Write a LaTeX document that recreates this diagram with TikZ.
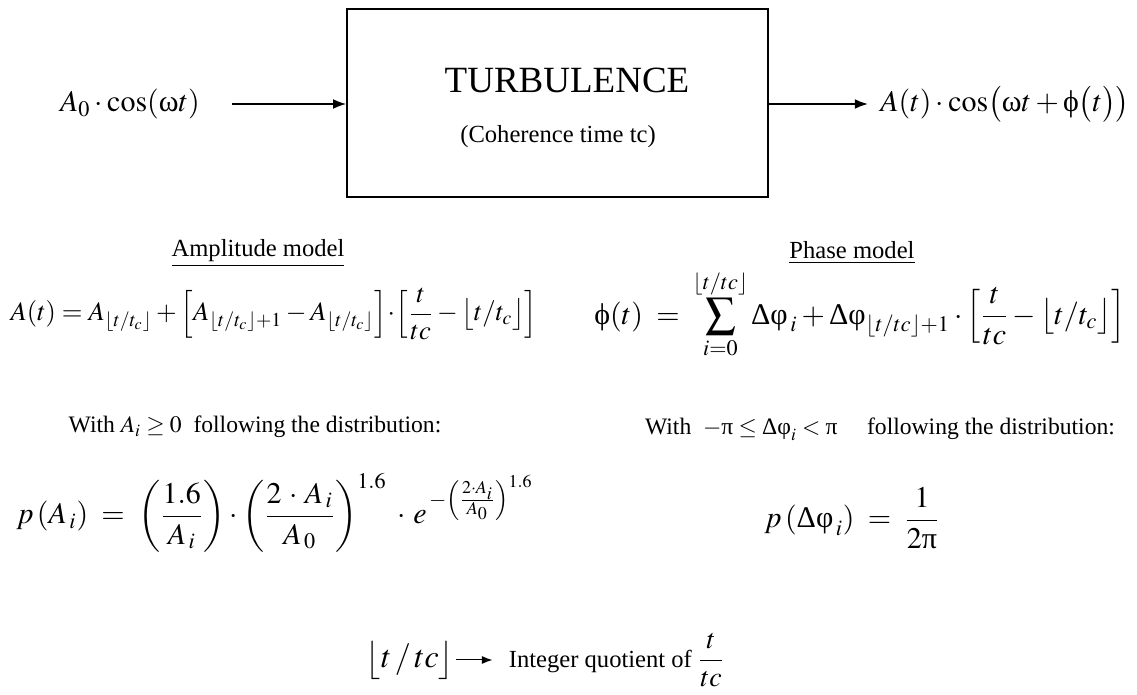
\documentclass[tikz,border=0pt]{standalone}
\usepackage{mathptmx}
\usepackage{amsmath}
\usepackage[no-math]{fontspec}
\setmainfont{Liberation Serif}
\usetikzlibrary{arrows.meta, positioning}

% upright greek taken from the text font
\newcommand{\gom}{\text{\normalfont ω}}
\newcommand{\gphi}{\text{\normalfont ϕ}}
\newcommand{\gvphi}{\text{\normalfont φ}}
\newcommand{\gpi}{\text{\normalfont π}}
\newcommand{\gdelta}{\text{\normalfont Δ}}

\begin{document}
\begin{tikzpicture}[
    x=0.5pt, y=-0.5pt,
    >=Latex,
    txt/.style={inner sep=1pt, font=\fontsize{12.3}{14}\selectfont},
    cond/.style={inner sep=1pt, font=\fontsize{11.8}{14}\selectfont},
    eqn/.style={inner sep=1pt, font=\fontsize{15}{18}\selectfont},
    wire/.style={->, line width=0.8pt}
  ]
  \useasboundingbox (0,0) rectangle (1137,695);

  % channel block
  \node[draw, line width=0.8pt, minimum width=210.5pt,
        minimum height=94pt] (turb) at (557.5,103) {};
  \node[font=\fontsize{18.5}{20}\selectfont] (title) at (567,80) {TURBULENCE};
  \node[txt] (tc) at (558,137) {(Coherence time tc)};

  \node[eqn] (in) at (130,104) {$A_0\cdot\cos(\gom t)$};
  \node[eqn] (out) at (1005,104)
    {$A(t)\cdot\cos\bigl(\gom t+\gphi\bigl(t\bigr)\bigr)$};
  \draw[wire, shorten <=15pt] (in.east) -- (in.east -| turb.west);
  \draw[wire, shorten >=5pt] (turb.east |- out.west) -- (out.west);

  % models
  \node[txt] (amp) at (258,253) {\underline{Amplitude model}};
  \node[txt] (pha) at (852,253) {\underline{Phase model}};

  \node[eqn, font=\fontsize{13.3}{16}\selectfont] (ampeq) at (274,314)
    {$A(t)=A_{\lfloor t/t_c\rfloor}+\Bigl[A_{\lfloor t/t_c\rfloor+1}-A_{\lfloor t/t_c\rfloor}\Bigr]\!\cdot\!\left[\dfrac{t}{tc}-\bigl\lfloor t/t_c\bigr\rfloor\right]$};
  \node[eqn] (phaeq) at (860,314)
    {$\displaystyle\gphi(t)\;=\;\sum_{i=0}^{\lfloor t/tc\rfloor}\gdelta\gvphi_{\,i}+\gdelta\gvphi_{\lfloor t/tc\rfloor+1}\cdot\left[\frac{t}{tc}-\bigl\lfloor t/t_c\bigr\rfloor\right]$};

  \node[cond] (ampcond) at (255,427) {With $A_i\geq0$\ \ following the distribution:};
  \node[cond] (phacond) at (880,429)
    {With \ $-\gpi\leq\gdelta\gvphi_i<\gpi$ \quad following the distribution:};

  \node[eqn] (ampdist) at (275,513)
    {$p\,(A_{\,i})\;=\;\left(\dfrac{1.6}{A_{\,i}}\right)\cdot\left(\dfrac{2\,\cdot\,A_{\,i}}{A_{\,0}}\right)^{1.6}\;\cdot\, e^{\,-\left(\frac{2\cdot A_i}{A_0}\right)^{1.6}}$};
  \node[eqn] (phadist) at (852,518) {$p\,(\gdelta\gvphi_{\,i})\;=\;\dfrac{1}{2\gpi}$};

  % legend
  \node[eqn, font=\fontsize{16}{18}\selectfont] (fl) at (410,660) {$\bigl\lfloor t\,/\,tc\bigr\rfloor$};
  \node[txt, right=25pt of fl] (quot)
    {Integer quotient of {\fontsize{14}{16}\selectfont$\dfrac{t}{tc}$}};
  \draw[->, line width=0.5pt, shorten >=7pt] (fl) -- (quot);
\end{tikzpicture}
\end{document}
